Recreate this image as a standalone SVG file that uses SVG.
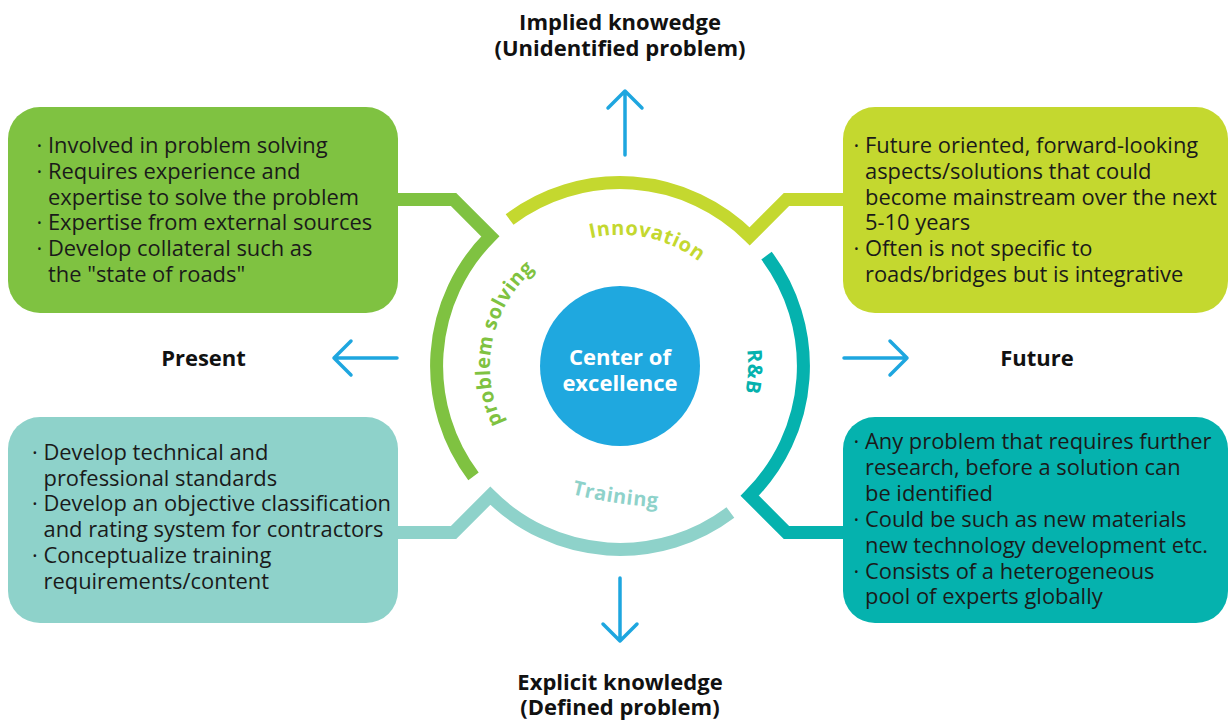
<svg xmlns="http://www.w3.org/2000/svg" width="1228" height="720" viewBox="0 0 1228 720">
<style>
.box-text{font-family:"Open Sans","Noto Sans","Liberation Sans",sans-serif;font-size:21.9px;fill:#1a1a1a;}
.lbl{font-family:"Open Sans","Noto Sans","Liberation Sans",sans-serif;font-size:22px;font-weight:bold;fill:#111;text-anchor:middle;}
.arc-lbl{font-family:"Open Sans","Noto Sans","Liberation Sans",sans-serif;font-size:20px;font-weight:bold;letter-spacing:0.6px;}
.band{fill:none;stroke-width:13;stroke-linejoin:miter;stroke-miterlimit:10;stroke-linecap:butt;}
.arrow{fill:none;stroke:#1EA6DF;stroke-width:3.5;stroke-linecap:round;stroke-linejoin:round;}
.center-text{font-family:"Open Sans","Noto Sans","Liberation Sans",sans-serif;font-size:22px;font-weight:bold;fill:#fff;text-anchor:middle;}
</style>
<defs>
<path id="p-innov" d="M 590.5 238.2 A 131 131 0 0 1 743.1 321.2"/>
<path id="p-prob" d="M 503 423 A 128 128 0 0 1 576.2 245.7"/>
<path id="p-rb" d="M 710.5 275.5 A 128 128 0 0 1 702.3 464.1"/>
<path id="p-train" d="M 572 494 Q 614 505 668 508"/>
</defs>
<rect width="1228" height="720" fill="#ffffff"/>

<g id="connectors">
<path class="band" stroke="#7FC241" d="M 390 199.5 H 453.5 L 490.3 236.3 A 183.5 183.5 0 0 0 473.5 476.4"/>
<path class="band" stroke="#C4D82F" d="M 509.6 219.5 A 183.5 183.5 0 0 1 749.7 236.3 L 786.5 199.5 H 850"/>
<path class="band" stroke="#05B2AE" d="M 766.5 255.6 A 183.5 183.5 0 0 1 749.7 495.7 L 786.5 532.5 H 850"/>
<path class="band" stroke="#8ED2CA" d="M 390 532.5 H 453.5 L 490.3 495.7 A 183.5 183.5 0 0 0 730.4 512.5"/>
<path class="arrow" d="M 625 155 V 91 M 608 108 L 625 91 L 642 108"/>
<path class="arrow" d="M 620 578 V 641 M 603 624 L 620 641 L 637 624"/>
<path class="arrow" d="M 397 358 H 334 M 351 341 L 334 358 L 351 375"/>
<path class="arrow" d="M 844 358 H 907 M 890 341 L 907 358 L 890 375"/>
</g>

<g id="center">
<circle cx="620" cy="366" r="80" fill="#1FA8DF"/>
<text class="center-text" x="620" y="365">Center of</text>
<text class="center-text" x="620" y="391">excellence</text>
</g>

<g id="ring-labels">
<text class="arc-lbl" fill="#C4D82F"><textPath href="#p-innov">Innovation</textPath></text>
<text class="arc-lbl" fill="#7FC241"><textPath href="#p-prob">problem solving</textPath></text>
<text class="arc-lbl" fill="#05B2AE" text-anchor="middle"><textPath href="#p-rb" startOffset="106">R&amp;B</textPath></text>
<text class="arc-lbl" fill="#8ED2CA"><textPath href="#p-train">Training</textPath></text>
</g>

<g id="node-problem-solving">
<rect x="8" y="107" width="390" height="206" rx="32" fill="#7FC241"/>
<text class="box-text">
<tspan x="36.5" y="153">· Involved in problem solving</tspan>
<tspan x="36.5" y="179">· Requires experience and</tspan>
<tspan x="48" y="204.5">expertise to solve the problem</tspan>
<tspan x="36.5" y="230">· Expertise from external sources</tspan>
<tspan x="36.5" y="256">· Develop collateral such as</tspan>
<tspan x="48" y="282">the "state of roads"</tspan>
</text>
</g>

<g id="node-innovation">
<rect x="843" y="107" width="385" height="206" rx="32" fill="#C4D82F"/>
<text class="box-text">
<tspan x="853.5" y="153">· Future oriented, forward-looking</tspan>
<tspan x="865" y="179">aspects/solutions that could</tspan>
<tspan x="865" y="204.5">become mainstream over the next</tspan>
<tspan x="865" y="230">5-10 years</tspan>
<tspan x="853.5" y="256">· Often is not specific to</tspan>
<tspan x="865" y="282">roads/bridges but is integrative</tspan>
</text>
</g>

<g id="node-training">
<rect x="8" y="417" width="390" height="206" rx="32" fill="#8ED2CA"/>
<text class="box-text">
<tspan x="32" y="460">· Develop technical and</tspan>
<tspan x="43.5" y="485.7">professional standards</tspan>
<tspan x="32" y="511.4">· Develop an objective classification</tspan>
<tspan x="43.5" y="537.1">and rating system for contractors</tspan>
<tspan x="32" y="562.8">· Conceptualize training</tspan>
<tspan x="43.5" y="588.5">requirements/content</tspan>
</text>
</g>

<g id="node-rb">
<rect x="843" y="417" width="385" height="206" rx="32" fill="#05B2AE"/>
<text class="box-text">
<tspan x="853.5" y="449">· Any problem that requires further</tspan>
<tspan x="865" y="475">research, before a solution can</tspan>
<tspan x="865" y="500.8">be identified</tspan>
<tspan x="853.5" y="526.7">· Could be such as new materials</tspan>
<tspan x="865" y="552.6">new technology development etc.</tspan>
<tspan x="853.5" y="578.5">· Consists of a heterogeneous</tspan>
<tspan x="865" y="604.4">pool of experts globally</tspan>
</text>
</g>

<g id="label-implied">
<text class="lbl" x="620" y="30">Implied knowedge</text>
<text class="lbl" x="620" y="56">(Unidentified problem)</text>
</g>
<g id="label-explicit">
<text class="lbl" x="620" y="690">Explicit knowledge</text>
<text class="lbl" x="620" y="715">(Defined problem)</text>
</g>
<g id="label-present">
<text class="lbl" x="203.5" y="366">Present</text>
</g>
<g id="label-future">
<text class="lbl" x="1037" y="366">Future</text>
</g>
</svg>
